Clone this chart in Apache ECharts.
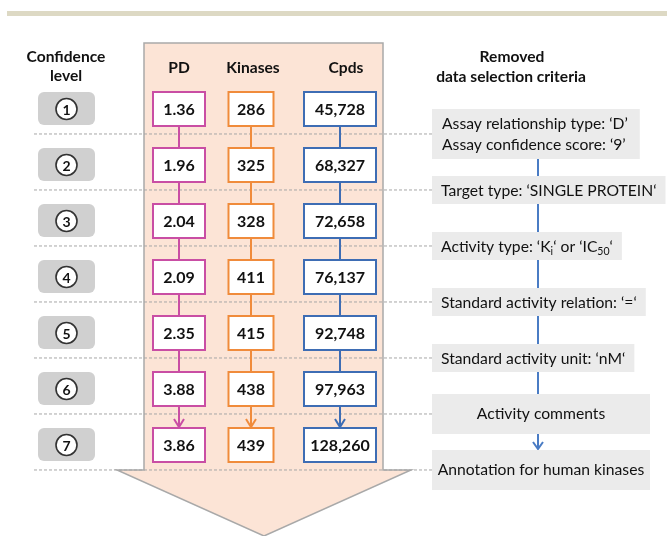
<!DOCTYPE html>
<html>
<head>
<meta charset="utf-8">
<script src="https://cdn.jsdelivr.net/npm/echarts@6/dist/echarts.min.js"></script>
<style>
  html, body { margin: 0; padding: 0; background: #fff; }
  #main { width: 667px; height: 536px; }
</style>
</head>
<body>
<div id="main"></div>
<script>
// confidence levels (rows)
const levels = [1, 2, 3, 4, 5, 6, 7];
const pdValues = ['1.36', '1.96', '2.04', '2.09', '2.35', '3.88', '3.86'];
const kinaseCounts = [286, 325, 328, 411, 415, 438, 439];
const cpdCounts = [45728, 68327, 72658, 76137, 92748, 97963, 128260];
// criteria removed when going from one level to the next
const criteria = [
  'Assay relationship type: ‘D’\nAssay confidence score: ‘9’',
  'Target type: ‘SINGLE PROTEIN‘',
  'Activity type: ‘K{sub|i}‘ or ‘IC{sub|50}‘',
  'Standard activity relation: ‘=‘',
  'Standard activity unit: ‘nM‘',
  'Activity comments',
  'Annotation for human kinases'
];

const FONT = 'Lato';
const SEP = 0.446; // separator offset below row centre (in level units)

var chart = echarts.init(document.getElementById('main'));

// one column of value boxes with connectors
function columnSeries(name, xCenter, boxW, color, texts) {
  return {
    name: name,
    type: 'custom',
    z: 5,
    data: levels.map(function (lv, i) { return [xCenter, lv, i]; }),
    renderItem: function (params, api) {
      var lv = api.value(1);
      var i = api.value(2);
      var p = api.coord([xCenter, lv]);
      var boxH = 34;
      var children = [{
        type: 'rect',
        shape: { x: p[0] - boxW / 2, y: p[1] - boxH / 2, width: boxW, height: boxH },
        style: { fill: '#fff', stroke: color, lineWidth: 2 }
      }, {
        type: 'text',
        style: {
          x: p[0], y: p[1] + 1, text: texts[i], align: 'center', verticalAlign: 'middle',
          font: 'bold 16px ' + FONT, fill: '#111'
        }
      }];
      if (i < levels.length - 1) {
        var q = api.coord([xCenter, lv + 1]);
        var y0 = p[1] + boxH / 2 + 1, y1 = q[1] - boxH / 2 - 1;
        children.push({
          type: 'line',
          shape: { x1: p[0], y1: y0, x2: p[0], y2: y1 },
          style: { stroke: color, lineWidth: 2 }
        });
        if (i === levels.length - 2) {
          children.push({
            type: 'polyline',
            shape: { points: [[p[0] - 5, y1 - 8], [p[0], y1], [p[0] + 5, y1 - 8]] },
            style: { stroke: color, lineWidth: 2, fill: null }
          });
        }
      }
      return { type: 'group', children: children };
    }
  };
}

var option = {
  animation: false,
  grid: { left: 0, right: 0, top: 53, bottom: 35 },
  xAxis: { type: 'value', min: 0, max: 667, show: false },
  yAxis: { type: 'value', min: 0, max: 8, inverse: true, show: false },
  graphic: [
    { type: 'rect', z: 0, shape: { x: 7, y: 11, width: 660, height: 5 }, style: { fill: '#ddd9c4' } },
    {
      type: 'polygon', z: 0,
      shape: { points: [[144, 43], [383, 43], [383, 470], [411, 470], [264, 536], [117, 470], [144, 470]] },
      style: { fill: '#fce4d6', stroke: '#a9a9a9', lineWidth: 1.5 }
    },
    { type: 'text', z: 10, style: { x: 66, y: 57, text: 'Confidence', align: 'center', verticalAlign: 'middle', font: 'bold 15.6px ' + FONT, fill: '#111' } },
    { type: 'text', z: 10, style: { x: 66, y: 76, text: 'level', align: 'center', verticalAlign: 'middle', font: 'bold 15.6px ' + FONT, fill: '#111' } },
    { type: 'text', z: 10, style: { x: 179, y: 68, text: 'PD', align: 'center', verticalAlign: 'middle', font: 'bold 15.6px ' + FONT, fill: '#111' } },
    { type: 'text', z: 10, style: { x: 253, y: 68, text: 'Kinases', align: 'center', verticalAlign: 'middle', font: 'bold 15.6px ' + FONT, fill: '#111' } },
    { type: 'text', z: 10, style: { x: 346, y: 68, text: 'Cpds', align: 'center', verticalAlign: 'middle', font: 'bold 15.6px ' + FONT, fill: '#111' } },
    { type: 'text', z: 10, style: { x: 512, y: 57, text: 'Removed', align: 'center', verticalAlign: 'middle', font: 'bold 15.6px ' + FONT, fill: '#111' } },
    { type: 'text', z: 10, style: { x: 511, y: 77, text: 'data selection criteria', align: 'center', verticalAlign: 'middle', font: 'bold 15.6px ' + FONT, fill: '#111' } }
  ],
  series: [
    // dashed row separators
    {
      type: 'custom', z: 1,
      data: levels.map(function (lv) { return [0, lv]; }),
      renderItem: function (params, api) {
        var a = api.coord([34, api.value(1) + SEP]);
        var b = api.coord([432, api.value(1) + SEP]);
        return {
          type: 'line',
          shape: { x1: a[0], y1: a[1], x2: b[0], y2: b[1] },
          style: { stroke: '#a6a6a6', lineWidth: 1, lineDash: [3, 2] }
        };
      }
    },
    // confidence level badges
    {
      type: 'custom', z: 5,
      data: levels.map(function (lv) { return [66.5, lv]; }),
      renderItem: function (params, api) {
        var p = api.coord([66.5, api.value(1)]);
        return {
          type: 'group',
          children: [{
            type: 'rect',
            shape: { x: p[0] - 28.5, y: p[1] - 17, width: 57, height: 33, r: 6 },
            style: { fill: '#d0d0d0' }
          }, {
            type: 'circle',
            shape: { cx: p[0], cy: p[1], r: 10.5 },
            style: { fill: '#fff', stroke: '#333', lineWidth: 1.6 }
          }, {
            type: 'text',
            style: {
              x: p[0], y: p[1] + 1, text: String(api.value(1)), align: 'center', verticalAlign: 'middle',
              font: 'bold 14px ' + FONT, fill: '#111'
            }
          }]
        };
      }
    },
    columnSeries('PD', 179, 52, '#c94ea4', pdValues),
    columnSeries('Kinases', 251, 45, '#f08b3b', kinaseCounts.map(String)),
    columnSeries('Cpds', 340, 72, '#3e6db4', cpdCounts.map(function (v) { return v.toLocaleString('en-US'); })),
    // connectors between criteria boxes
    {
      type: 'custom', z: 3,
      data: levels.slice(0, -1).map(function (lv) { return [538, lv]; }),
      renderItem: function (params, api) {
        var lv = api.value(1);
        var p = api.coord([538, lv + SEP]);
        var q = api.coord([538, lv + 1 + SEP]);
        var last = params.dataIndex === levels.length - 2;
        var yEnd = last ? q[1] - 21 : q[1];
        var children = [{
          type: 'line',
          shape: { x1: p[0], y1: p[1], x2: q[0], y2: yEnd },
          style: { stroke: '#4a7cc4', lineWidth: 2 }
        }];
        if (last) {
          children.push({
            type: 'polyline',
            shape: { points: [[q[0] - 5, yEnd - 7], [q[0], yEnd], [q[0] + 5, yEnd - 7]] },
            style: { stroke: '#4a7cc4', lineWidth: 2, fill: null }
          });
        }
        return { type: 'group', children: children };
      }
    },
    // criteria boxes
    {
      type: 'custom', z: 4,
      data: levels.map(function (lv, i) { return [432, lv, i]; }),
      renderItem: function (params, api) {
        var i = api.value(2);
        var p = api.coord([432, api.value(1) + SEP]);
        if (i >= 5) {
          return {
            type: 'group',
            children: [{
              type: 'rect',
              shape: { x: p[0], y: p[1] - 20, width: 218, height: 40 },
              style: { fill: '#ebebeb' }
            }, {
              type: 'text',
              style: {
                x: p[0] + 109, y: p[1], text: criteria[i], align: 'center', verticalAlign: 'middle',
                font: '15.7px ' + FONT, fill: '#111'
              }
            }]
          };
        }
        return {
          type: 'text',
          style: {
            x: p[0], y: p[1], text: criteria[i], align: 'left', verticalAlign: 'middle',
            font: '15.7px ' + FONT, fill: '#111', lineHeight: 21,
            backgroundColor: '#ebebeb',
            padding: i === 0 ? [4, 12, 4, 10] : [4, 9, 3, 9],
            rich: {
              sub: { font: '10.5px ' + FONT, fill: '#111', verticalAlign: 'bottom', lineHeight: 21 }
            }
          }
        };
      }
    }
  ]
};

chart.setOption(option);
</script>
</body>
</html>
